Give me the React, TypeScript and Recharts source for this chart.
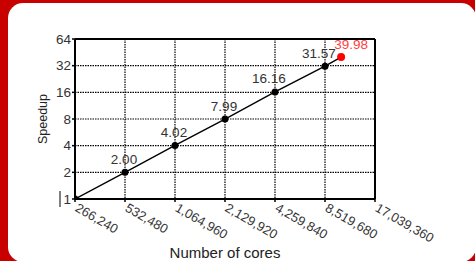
import { LineChart, Line, XAxis, YAxis, CartesianGrid, LabelList, Label } from "recharts"

const cores = [266240, 532480, 1064960, 2129920, 4259840, 8519680, 10649600]
const speedup = [1, 2.0, 4.02, 7.99, 16.16, 31.57, 39.98]
const speedupLabels = ["", "2.00", "4.02", "7.99", "16.16", "31.57", "39.98"]
const xTicks = [266240, 532480, 1064960, 2129920, 4259840, 8519680, 17039360]
const yTicks = [1, 2, 4, 8, 16, 32, 64]

const data = cores.map((c, i) => ({ cores: c, speedup: speedup[i], label: speedupLabels[i] }))
const lastIdx = data.length - 1

const FONT = "'Liberation Sans', Arial, sans-serif"

const XTick = (props: any) => {
  const { x, y, payload } = props
  const px = x + 4
  return (
    <text
      x={px}
      y={y}
      transform={`rotate(30 ${px} ${y})`}
      dy="0.75em"
      textAnchor="start"
      fontSize={13}
      fontFamily={FONT}
      fill="#333"
    >
      {Number(payload.value).toLocaleString("en-US")}
    </text>
  )
}

const YTick = (props: any) => {
  const { x, y, payload } = props
  return (
    <g>
      <text x={x} y={y} dy="0.35em" textAnchor="end" fontSize={13.5} fontFamily={FONT} fill="#333">
        {payload.value}
      </text>
      {payload.value === 1 && <line x1={x - 11} x2={x - 11} y1={y - 8} y2={y + 8} stroke="#000" strokeWidth={1} />}
    </g>
  )
}

const Dot = (props: any) => {
  const { cx, cy, index } = props
  const red = index === lastIdx
  return <circle cx={cx} cy={cy} r={red ? 4 : 3.5} fill={red ? "#ff0000" : "#000"} stroke="none" />
}

const PointLabel = (props: any) => {
  const { x, y, value, index } = props
  if (!value) return null
  const red = index === lastIdx
  const dx = red ? 10 : String(value).length > 4 ? -6 : -1
  return (
    <text
      x={x + dx}
      y={y - 13}
      dominantBaseline="central"
      textAnchor="middle"
      fontSize={13.5}
      fontFamily={FONT}
      fill={red ? "#ff4040" : "#333"}
    >
      {value}
    </text>
  )
}

const YTitle = (props: any) => {
  const { viewBox } = props
  const cx = viewBox.x - 2
  const cy = viewBox.y + viewBox.height / 2
  return (
    <text x={cx} y={cy} transform={`rotate(-90 ${cx} ${cy})`} textAnchor="middle" dominantBaseline="central" fontSize={12.5} fontFamily={FONT} fill="#222">
      Speedup
    </text>
  )
}

const XTitle = (props: any) => {
  const { viewBox } = props
  return (
    <text x={viewBox.x + viewBox.width / 2} y={viewBox.y + 53} textAnchor="middle" dominantBaseline="central" fontSize={15} fontFamily={FONT} fill="#222">
      Number of cores
    </text>
  )
}

export default function App() {
  return (
    <div style={{ position: "absolute", left: 0, top: 0, width: 475, height: 261, background: "#c80000", overflow: "hidden" }}>
      <div style={{ position: "absolute", left: 8, top: 3, width: 468, height: 259, background: "#fff", borderRadius: 15 }} />
      <div style={{ position: "absolute", left: 0, top: 0 }}>
        <LineChart width={475} height={261} data={data} margin={{ top: 36, right: 97, bottom: 0, left: 45 }}>
          <CartesianGrid stroke="#000" strokeDasharray="1.5 1" strokeWidth={1.2} />
          <XAxis
            dataKey="cores"
            type="number"
            scale="log"
            domain={[266240, 17039360]}
            ticks={xTicks}
            allowDataOverflow
            height={62}
            tickSize={3}
            tickMargin={0}
            tick={<XTick />}
            axisLine={{ stroke: "#000", strokeWidth: 2 }}
            tickLine={{ stroke: "#000", strokeWidth: 1.5 }}
            interval={0}
          >
            <Label content={<XTitle />} />
          </XAxis>
          <XAxis
            xAxisId="top"
            orientation="top"
            dataKey="cores"
            type="number"
            scale="log"
            domain={[266240, 17039360]}
            ticks={xTicks}
            allowDataOverflow
            height={3}
            tickSize={3}
            tick={false}
            axisLine={{ stroke: "#000", strokeWidth: 2 }}
            tickLine={{ stroke: "#000", strokeWidth: 1.5 }}
          />
          <YAxis
            type="number"
            scale="log"
            domain={[1, 64]}
            ticks={yTicks}
            allowDataOverflow
            width={30}
            tickSize={3}
            tickMargin={1}
            tick={<YTick />}
            axisLine={{ stroke: "#000", strokeWidth: 2 }}
            tickLine={{ stroke: "#000", strokeWidth: 1.5 }}
            interval={0}
          >
            <Label content={<YTitle />} />
          </YAxis>
          <YAxis
            yAxisId="right"
            orientation="right"
            type="number"
            scale="log"
            domain={[1, 64]}
            ticks={yTicks}
            allowDataOverflow
            width={3}
            tickSize={3}
            tick={false}
            axisLine={{ stroke: "#000", strokeWidth: 2 }}
            tickLine={{ stroke: "#000", strokeWidth: 1.5 }}
          />
          <Line
            dataKey="speedup"
            stroke="#000"
            strokeWidth={1.4}
            dot={<Dot />}
            activeDot={false}
            isAnimationActive={false}
          >
            <LabelList dataKey="label" content={<PointLabel />} />
          </Line>
        </LineChart>
      </div>
    </div>
  )
}
